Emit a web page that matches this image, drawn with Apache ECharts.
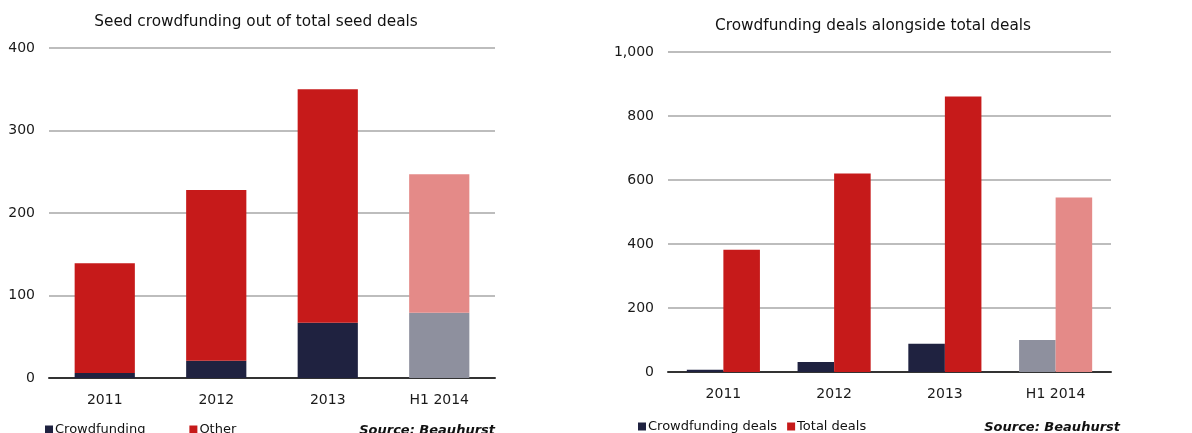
<!DOCTYPE html>
<html>
<head>
<meta charset="utf-8">
<script src="https://cdn.jsdelivr.net/npm/echarts@6/dist/echarts.min.js"></script>
<style>
  html, body { margin: 0; padding: 0; background: #fff; }
  #main { width: 1192px; height: 433px; }
</style>
</head>
<body>
<div id="main"></div>
<script>
// categories
const years = ['2011', '2012', '2013', 'H1 2014'];

// left chart: seed deals (stacked)
const seedCrowd = [6, 21, 67, 79];
const seedOther = [133, 207, 283, 168];

// right chart: all deals
const crowdDeals = [7, 31, 88, 100];
const totalDeals = [382, 620, 861, 545];

const navy = '#1f2240';
const red = '#c61a1a';
const navyFade = '#8e909e';
const redFade = '#e48a88';
const font = 'DejaVu Sans';

// last bar (H1 2014) is drawn faded
function fade(arr, full, faded) {
  return arr.map((v, i) => ({
    value: v,
    itemStyle: { color: i === arr.length - 1 ? faded : full }
  }));
}

const chart = echarts.init(document.getElementById('main'));

const xAxisBase = {
  type: 'category',
  data: years,
  axisTick: { show: false },
  axisLine: { lineStyle: { color: '#333', width: 2 } },
  axisLabel: { color: '#1a1a1a', fontSize: 14, fontFamily: font, margin: 15 }
};
const yAxisBase = {
  type: 'value',
  axisLine: { show: false },
  axisTick: { show: false },
  splitLine: { lineStyle: { color: '#bdbdbd', width: 2 } },
  axisLabel: { color: '#1a1a1a', fontSize: 14, fontFamily: font, margin: 14 }
};

const option = {
  animation: false,
  title: [
    {
      text: 'Seed crowdfunding out of total seed deals',
      left: 251, top: 10, textAlign: 'center',
      textStyle: { fontSize: 15.3, fontWeight: 'normal', color: '#111', fontFamily: font }
    },
    {
      text: 'Crowdfunding deals alongside total deals',
      left: 868, top: 14, textAlign: 'center',
      textStyle: { fontSize: 15.3, fontWeight: 'normal', color: '#111', fontFamily: font }
    },
    {
      text: 'Source: Beauhurst',
      right: 692, top: 419,
      textStyle: { fontSize: 13, fontWeight: 'bold', fontStyle: 'italic', color: '#111', fontFamily: font }
    },
    {
      text: 'Source: Beauhurst',
      right: 67, top: 416,
      textStyle: { fontSize: 13, fontWeight: 'bold', fontStyle: 'italic', color: '#111', fontFamily: font }
    }
  ],
  legend: [
    {
      data: [
        { name: 'Crowdfunding', itemStyle: { color: navy } },
        { name: 'Other', itemStyle: { color: red } }
      ],
      left: 40, top: 418,
      icon: 'rect', itemWidth: 8, itemHeight: 8, itemGap: 44,
      textStyle: { fontSize: 13, color: '#111', fontFamily: font, padding: [0, 0, 0, -3] }
    },
    {
      data: [
        { name: 'Crowdfunding deals', itemStyle: { color: navy } },
        { name: 'Total deals', itemStyle: { color: red } }
      ],
      left: 633, top: 415,
      icon: 'rect', itemWidth: 8, itemHeight: 8, itemGap: 10,
      textStyle: { fontSize: 13, color: '#111', fontFamily: font, padding: [0, 0, 0, -3] }
    }
  ],
  grid: [
    { left: 49, top: 48, width: 446, height: 330 },
    { left: 668, top: 52, width: 443, height: 320 }
  ],
  xAxis: [
    Object.assign({ gridIndex: 0 }, xAxisBase),
    Object.assign({ gridIndex: 1 }, xAxisBase)
  ],
  yAxis: [
    Object.assign({ gridIndex: 0, min: 0, max: 400, interval: 100 }, yAxisBase),
    Object.assign({ gridIndex: 1, min: 0, max: 1000, interval: 200 }, yAxisBase, {
      axisLabel: {
        color: '#1a1a1a', fontSize: 14, fontFamily: font, margin: 14,
        formatter: v => v.toLocaleString('en-US')
      }
    })
  ],
  series: [
    {
      name: 'Crowdfunding', type: 'bar', stack: 'seed',
      xAxisIndex: 0, yAxisIndex: 0, barWidth: '54%',
      itemStyle: { color: navy },
      data: fade(seedCrowd, navy, navyFade)
    },
    {
      name: 'Other', type: 'bar', stack: 'seed',
      xAxisIndex: 0, yAxisIndex: 0, barWidth: '54%',
      itemStyle: { color: red },
      data: fade(seedOther, red, redFade)
    },
    {
      name: 'Crowdfunding deals', type: 'bar',
      xAxisIndex: 1, yAxisIndex: 1, barWidth: '33%', barGap: '0%',
      itemStyle: { color: navy },
      data: fade(crowdDeals, navy, navyFade)
    },
    {
      name: 'Total deals', type: 'bar',
      xAxisIndex: 1, yAxisIndex: 1, barWidth: '33%', barGap: '0%',
      itemStyle: { color: red },
      data: fade(totalDeals, red, redFade)
    }
  ]
};

chart.setOption(option);
</script>
</body>
</html>
